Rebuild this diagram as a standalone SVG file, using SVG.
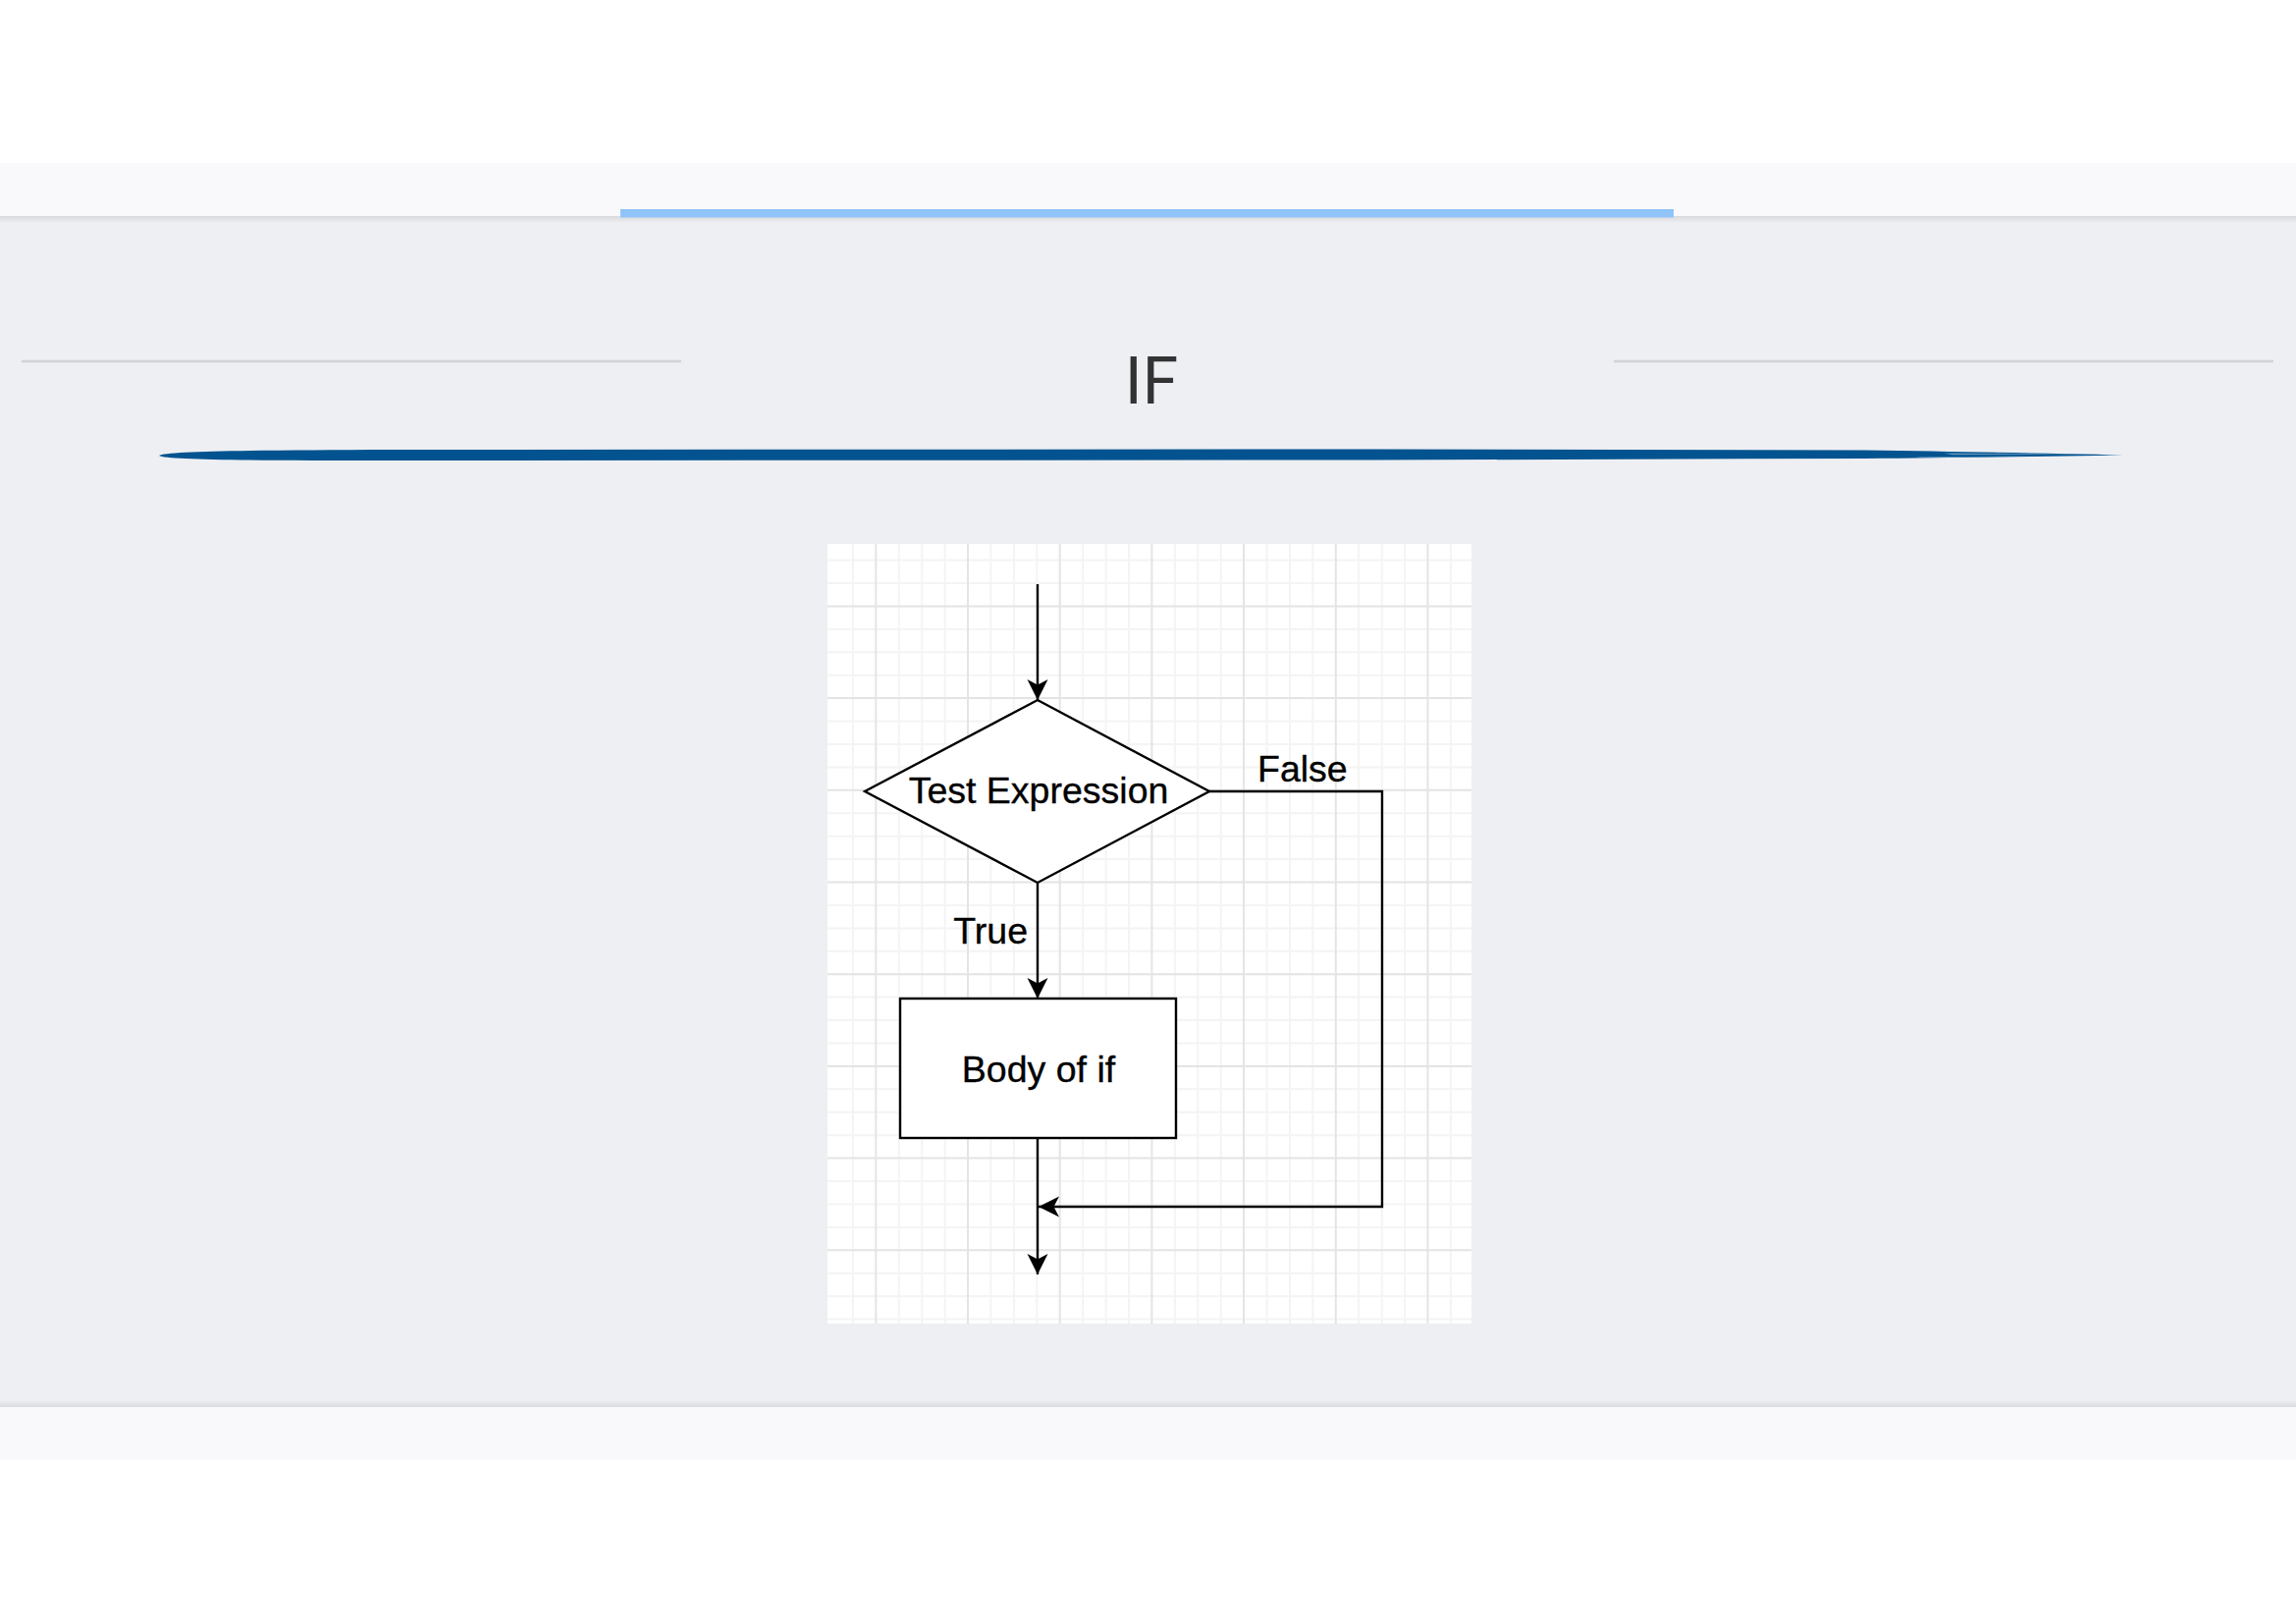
<svg xmlns="http://www.w3.org/2000/svg" width="2339" height="1653" viewBox="0 0 2339 1653">
<style>
.lbl{font-family:"Liberation Sans",Arial,Helvetica,sans-serif;font-size:37.5px;fill:#000;stroke:#000;stroke-width:0.35}
.shape{fill:#fff;stroke:#000;stroke-width:2.4}
.edge{fill:none;stroke:#000;stroke-width:2.4}
.minor{fill:none;stroke:#f4f4f4;stroke-width:2}
.major{fill:none;stroke:#e4e4e4;stroke-width:2}
.rule{stroke:#d2d3d7;stroke-width:2.5}
</style>
<defs>
<marker id="arrow" markerUnits="userSpaceOnUse" viewBox="-22 -12 24 24" markerWidth="24" markerHeight="24" refX="0" refY="0" orient="auto">
<path d="M0,0 L-21,-10.5 L-15.5,0 L-21,10.5 Z" fill="#000"/>
</marker>
<linearGradient id="shTop" x1="0" y1="0" x2="0" y2="1">
<stop offset="0" stop-color="#d9dade"/>
<stop offset="1" stop-color="#eeeff3"/>
</linearGradient>
<linearGradient id="shBot" x1="0" y1="0" x2="0" y2="1">
<stop offset="0" stop-color="#eeeff3"/>
<stop offset="1" stop-color="#d9dade"/>
</linearGradient>
</defs>
<!-- page background -->
<rect x="0" y="0" width="2339" height="1653" fill="#ffffff"/>
<rect x="0" y="166" width="2339" height="54" fill="#f9f9fb"/>
<rect x="0" y="220" width="2339" height="1213" fill="#eeeff3"/>
<rect x="0" y="220" width="2339" height="7" fill="url(#shTop)"/>
<rect x="0" y="1426" width="2339" height="7" fill="url(#shBot)"/>
<rect x="0" y="1433" width="2339" height="54" fill="#f9f9fb"/>
<rect x="632" y="213" width="1073" height="8.5" fill="#90c4f9"/>
<!-- title -->
<line class="rule" x1="22" y1="368" x2="694" y2="368"/>
<line class="rule" x1="1644" y1="368" x2="2316" y2="368"/>
<text x="1173" y="410.5" text-anchor="middle" font-family="Roboto,'Liberation Sans',sans-serif" font-size="66" fill="#333333">IF</text>
<path d="M162,464 C170,459.5 250,458.5 400,458 L1400,457.5 L1900,458.5 C2000,460 2100,462 2163,463.5 C2100,464.8 2000,466 1900,467 L1400,468.5 L400,469 C250,469 170,468.5 162,464 Z" fill="#02538f"/>
<path d="M1980,461.5 L2120,462.5 L1990,463.2 Z M1950,465.5 L2080,464.5 L1960,466.3 Z" fill="#8fb3d3" opacity="0.7"/>
<!-- grid panel -->
<rect x="843" y="554" width="656" height="794" fill="#ffffff"/>
<path class="minor" d="M868.9,554V1348M915.7,554V1348M939.2,554V1348M962.6,554V1348M1009.4,554V1348M1032.9,554V1348M1056.3,554V1348M1103.1,554V1348M1126.6,554V1348M1150,554V1348M1196.8,554V1348M1220.3,554V1348M1243.7,554V1348M1290.5,554V1348M1314,554V1348M1337.4,554V1348M1384.2,554V1348M1407.7,554V1348M1431.1,554V1348M1477.9,554V1348M843,570.6H1499M843,594H1499M843,640.8H1499M843,664.3H1499M843,687.7H1499M843,734.5H1499M843,758H1499M843,781.4H1499M843,828.2H1499M843,851.7H1499M843,875.1H1499M843,921.9H1499M843,945.4H1499M843,968.8H1499M843,1015.6H1499M843,1039.1H1499M843,1062.5H1499M843,1109.3H1499M843,1132.8H1499M843,1156.2H1499M843,1203H1499M843,1226.5H1499M843,1249.9H1499M843,1296.7H1499M843,1320.2H1499M843,1343.6H1499"/>
<path class="major" d="M892.3,554V1348M986,554V1348M1079.7,554V1348M1173.4,554V1348M1267.1,554V1348M1360.8,554V1348M1454.5,554V1348M843,617.4H1499M843,711.1H1499M843,804.8H1499M843,898.5H1499M843,992.2H1499M843,1085.9H1499M843,1179.6H1499M843,1273.3H1499"/>
<!-- connectors -->
<g id="connectors">
<path class="edge" d="M1057,595 L1057,713" marker-end="url(#arrow)"/>
<path class="edge" d="M1057,899 L1057,1017" marker-end="url(#arrow)"/>
<path class="edge" d="M1232,806 L1408,806 L1408,1229 L1058,1229" marker-end="url(#arrow)"/>
<path class="edge" d="M1057,1159 L1057,1298" marker-end="url(#arrow)"/>
<text class="lbl" x="1281" y="796">False</text>
<text class="lbl" x="1047" y="961" text-anchor="end">True</text>
</g>
<!-- nodes -->
<g id="node-test">
<polygon class="shape" points="1057,713 1232,806 1057,899 881,806"/>
<text class="lbl" x="1058" y="818" text-anchor="middle">Test Expression</text>
</g>
<g id="node-body">
<rect class="shape" x="917" y="1017" width="281" height="142"/>
<text class="lbl" x="1058" y="1102" text-anchor="middle">Body of if</text>
</g>
</svg>
